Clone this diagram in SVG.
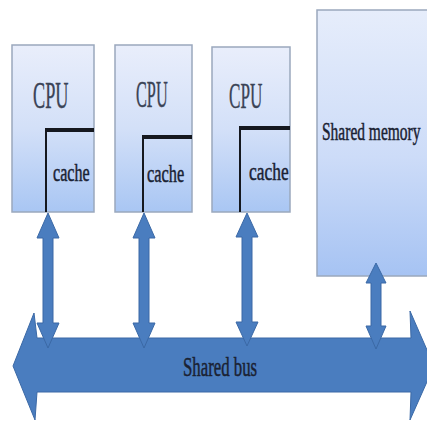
<svg xmlns="http://www.w3.org/2000/svg" width="427" height="421" viewBox="0 0 427 421">
  <defs>
    <linearGradient id="boxFill" x1="0" y1="0" x2="0" y2="1">
      <stop offset="0" stop-color="#e9eefb"/>
      <stop offset="0.5" stop-color="#d3e0f8"/>
      <stop offset="1" stop-color="#a9c6f3"/>
    </linearGradient>
    <linearGradient id="memFill" x1="0" y1="0" x2="0" y2="1">
      <stop offset="0" stop-color="#e6edfb"/>
      <stop offset="0.55" stop-color="#cddcf8"/>
      <stop offset="1" stop-color="#a6c3f3"/>
    </linearGradient>
    <style>
      .box { stroke: #9aa8bd; stroke-width: 1.5; }
      .bracket { fill: none; stroke: #15181f; }
      .arrow { fill: #4a7dbf; stroke: #3b69a6; stroke-width: 1; }
      .lbl { font-family: "Liberation Serif", "Times New Roman", serif; fill: #3a4356; stroke: #3a4356; stroke-width: 0.4; }
      .dark { fill: #1a2233; stroke: #1a2233; stroke-width: 0.5; }
    </style>
  </defs>
  <rect width="427" height="421" fill="#ffffff"/>

  <!-- processors -->
  <g id="cpu1">
    <rect class="box" x="12" y="45" width="82" height="167" fill="url(#boxFill)"/>
    <text class="lbl" transform="translate(33,108) scale(0.48,1)" font-size="38">CPU</text>
    <path class="bracket" d="M46,212 V130" stroke-width="2"/>
    <path class="bracket" d="M45,130 H94" stroke-width="4"/>
    <text class="lbl dark" transform="translate(53,181) scale(0.62,1)" font-size="26">cache</text>
  </g>
  <g id="cpu2">
    <rect class="box" x="115" y="45" width="77" height="167" fill="url(#boxFill)"/>
    <text class="lbl" transform="translate(136,107) scale(0.44,1)" font-size="37">CPU</text>
    <path class="bracket" d="M143,212 V137" stroke-width="2"/>
    <path class="bracket" d="M142,137 H192" stroke-width="4"/>
    <text class="lbl dark" transform="translate(147,182) scale(0.63,1)" font-size="26">cache</text>
  </g>
  <g id="cpu3">
    <rect class="box" x="212" y="47" width="78" height="165" fill="url(#boxFill)"/>
    <text class="lbl" transform="translate(229,108) scale(0.49,1)" font-size="35">CPU</text>
    <path class="bracket" d="M240,212 V128" stroke-width="2"/>
    <path class="bracket" d="M239,128 H290" stroke-width="4"/>
    <text class="lbl dark" transform="translate(249,180) scale(0.67,1)" font-size="26">cache</text>
  </g>

  <!-- memory -->
  <g id="memory">
    <rect class="box" x="317" y="10" width="115" height="266" fill="url(#memFill)"/>
    <text class="lbl dark" transform="translate(322,140) scale(0.62,1)" font-size="25">Shared memory</text>
  </g>

  <!-- bus -->
  <g id="bus">
    <polygon class="arrow" points="13,366 34,313 37,338 411,338 410,311 434,366 410,420 411,392 37,392 35,420"/>
    <text class="lbl dark" transform="translate(183,376) scale(0.6,1)" font-size="28">Shared bus</text>
  </g>

  <!-- connectors -->
  <g id="connectors">
    <polygon class="arrow" points="48,213 59,238 53,238 53,323 59,323 48,348 37,323 43,323 43,238 37,238"/>
    <polygon class="arrow" points="144,213 155,238 149,238 149,323 155,323 144,348 133,323 139,323 139,238 133,238"/>
    <polygon class="arrow" points="247,213 258,237 252,237 252,322 258,322 247,346 236,322 242,322 242,237 236,237"/>
    <polygon class="arrow" points="376,263 386,283 381,283 381,326 386,326 376,349 366,326 371,326 371,283 366,283"/>
  </g>
</svg>
